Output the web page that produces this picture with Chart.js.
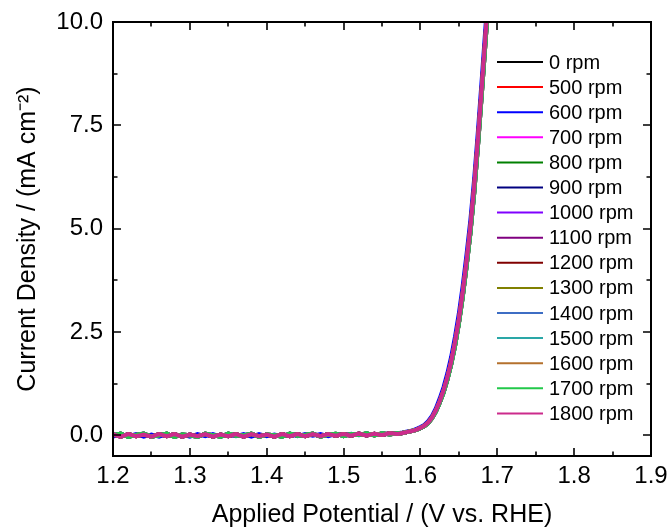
<!DOCTYPE html>
<html>
<head>
<meta charset="utf-8">
<script src="https://cdn.jsdelivr.net/npm/chart.js@4.4.0/dist/chart.umd.min.js"></script>
<style>
    html, body { margin: 0; padding: 0; background: #fff; }
    #wrap { width: 668px; height: 530px; }
</style>
</head>
<body>
<div id="wrap"><canvas id="rdeChart" width="668" height="530"></canvas></div>
<script>
// --- DATA ---

const speeds = ['0 rpm', '500 rpm', '600 rpm', '700 rpm', '800 rpm', '900 rpm', '1000 rpm', '1100 rpm',
    '1200 rpm', '1300 rpm', '1400 rpm', '1500 rpm', '1600 rpm', '1700 rpm', '1800 rpm']

const speedColors = ['#000000', '#ff0000', '#0000ff', '#ff00ff', '#008000', '#000080', '#8000ff', '#800080',
    '#800000', '#808000', '#3d6dc4', '#2aa7a7', '#b4712d', '#22c84a', '#cc2b8c']

// potential (V vs. RHE), shared by every sweep
const potential = [
    1.20, 1.21, 1.22, 1.23, 1.24, 1.25, 1.26, 1.27, 1.28, 1.29,
    1.30, 1.31, 1.32, 1.33, 1.34, 1.35, 1.36, 1.37, 1.38, 1.39,
    1.40, 1.41, 1.42, 1.43, 1.44, 1.45, 1.46, 1.47, 1.48, 1.49,
    1.50, 1.51, 1.52, 1.53, 1.54, 1.55, 1.56, 1.57,
    1.575, 1.580, 1.585, 1.590, 1.595, 1.600, 1.605, 1.610, 1.615, 1.620,
    1.625, 1.630, 1.635, 1.640, 1.645, 1.650, 1.655, 1.660, 1.665, 1.670,
    1.675, 1.680, 1.685, 1.690
]

// current density (mA cm-2), three sweep shapes
const currentA = [
    0.02, -0.03, 0.03, -0.02, 0.02, -0.03, 0.03, -0.02, 0.03, -0.03,
    0.02, -0.02, 0.03, -0.03, 0.02, -0.02, 0.03, -0.03, 0.03, -0.02,
    0.02, -0.03, 0.03, -0.02, 0.03, -0.02, 0.03, -0.02, 0.03, -0.01,
    0.03, -0.01, 0.04, 0.00, 0.04, 0.01, 0.05, 0.03,
    0.05, 0.07, 0.09, 0.11, 0.14, 0.18, 0.23, 0.31, 0.43, 0.60,
    0.82, 1.08, 1.40, 1.78, 2.25, 2.80, 3.45, 4.20, 5.02, 6.02,
    7.20, 8.45, 9.75, 11.05
]

const currentB = [
    -0.03, 0.03, -0.02, 0.03, -0.03, 0.02, -0.03, 0.03, -0.02, 0.02,
    -0.03, 0.03, -0.02, 0.03, -0.03, 0.02, -0.02, 0.03, -0.03, 0.03,
    -0.02, 0.02, -0.02, 0.03, -0.02, 0.03, -0.01, 0.03, -0.02, 0.03,
    0.00, 0.04, 0.00, 0.03, 0.02, 0.04, 0.03, 0.05,
    0.06, 0.08, 0.10, 0.12, 0.16, 0.20, 0.25, 0.34, 0.47, 0.65,
    0.89, 1.16, 1.50, 1.90, 2.39, 2.95, 3.62, 4.38, 5.21, 6.22,
    7.41, 8.67, 9.98, 11.28
]

const currentC = [
    0.00, 0.04, -0.04, 0.01, 0.04, -0.03, 0.00, 0.04, -0.04, 0.02,
    0.00, -0.04, 0.04, 0.00, -0.03, 0.04, -0.01, 0.00, 0.04, -0.04,
    0.02, 0.00, -0.03, 0.04, -0.01, 0.01, 0.04, -0.03, 0.02, 0.04,
    -0.02, 0.03, 0.01, 0.05, 0.00, 0.05, 0.02, 0.05,
    0.05, 0.07, 0.09, 0.11, 0.13, 0.17, 0.22, 0.29, 0.41, 0.57,
    0.78, 1.03, 1.34, 1.71, 2.16, 2.70, 3.34, 4.08, 4.89, 5.87,
    7.04, 8.29, 9.59, 10.89
]

// which sweep each rotation speed follows
const speedCurrents = [currentA, currentA, currentB, currentC, currentC, currentA, currentA, currentC,
    currentA, currentC, currentA, currentC, currentA, currentC, currentA]

const xTickValues = [1.2, 1.3, 1.4, 1.5, 1.6, 1.7, 1.8, 1.9]
const xMinorValues = [1.25, 1.35, 1.45, 1.55, 1.65, 1.75, 1.85]
const yTickValues = [0, 2.5, 5, 7.5, 10]
const yMinorValues = [1.25, 3.75, 6.25, 8.75]

// --- PLUGINS ---

// box frame with inward ticks on all four sides
const frameTicks = {
    id: 'frameTicks',
    afterDraw(chart){
        const ctx = chart.ctx
        const area = chart.chartArea
        const xs = chart.scales.x
        const ys = chart.scales.y

        ctx.save()
        ctx.strokeStyle = '#000'
        ctx.lineWidth = 2
        ctx.strokeRect(area.left, area.top, area.right - area.left, area.bottom - area.top)

        ctx.lineWidth = 1.6
        ctx.beginPath()
        const tickX = (vals, len) => vals.forEach(v => {
            const px = Math.round(xs.getPixelForValue(v))
            ctx.moveTo(px, area.bottom); ctx.lineTo(px, area.bottom - len)
            ctx.moveTo(px, area.top); ctx.lineTo(px, area.top + len)
        })
        const tickY = (vals, len) => vals.forEach(v => {
            const py = Math.round(ys.getPixelForValue(v))
            ctx.moveTo(area.left, py); ctx.lineTo(area.left + len, py)
            ctx.moveTo(area.right, py); ctx.lineTo(area.right - len, py)
        })
        tickX(xTickValues, 8)
        tickX(xMinorValues, 4.5)
        tickY(yTickValues, 8)
        tickY(yMinorValues, 4.5)
        ctx.stroke()
        ctx.restore()
    }
}

// legend inside the plot, top right
const innerLegend = {
    id: 'innerLegend',
    afterDraw(chart){
        const ctx = chart.ctx
        const area = chart.chartArea
        const x0 = area.right - 154
        const y0 = area.top + 40

        ctx.save()
        ctx.font = '20px "Liberation Sans", Arial, sans-serif'
        ctx.textBaseline = 'middle'
        ctx.textAlign = 'left'
        speeds.forEach((name, i) => {
            const y = y0 + i * 25.1
            ctx.strokeStyle = speedColors[i]
            ctx.lineWidth = 2
            ctx.beginPath()
            ctx.moveTo(x0, y)
            ctx.lineTo(x0 + 46, y)
            ctx.stroke()
            ctx.fillStyle = '#000'
            ctx.fillText(name, x0 + 52, y + 1)
        })
        ctx.restore()
    }
}

// --- CHART ---

function initChart(){
    const ctx = document.getElementById('rdeChart').getContext('2d')

    const datasets = speeds.map((name, i) => ({
        label: name,
        data: potential.map((v, k) => ({ x: v, y: speedCurrents[i][k] })),
        borderColor: speedColors[i],
        backgroundColor: speedColors[i],
        borderWidth: 4,
        pointRadius: 0,
        tension: 0,
        fill: false,
        order: speeds.length - 1 - i
    }))

    const tickFont = { family: '"Liberation Sans", Arial, sans-serif', size: 24 }
    const titleFont = { family: '"Liberation Sans", Arial, sans-serif', size: 25 }

    new Chart(ctx, {
        type: 'line',
        data: { datasets },
        plugins: [frameTicks, innerLegend],
        options: {
            responsive: false,
            animation: false,
            devicePixelRatio: 1,
            layout: { padding: { top: 22, right: 17, left: 0, bottom: 0 } },
            plugins: {
                legend: { display: false },
                tooltip: { enabled: false }
            },
            scales: {
                x: {
                    type: 'linear',
                    min: 1.2,
                    max: 1.9,
                    afterBuildTicks: s => { s.ticks = xTickValues.map(v => ({ value: v })) },
                    afterFit: s => {
                        s.height = 74
                        s.paddingLeft = 0
                        s.paddingRight = 0
                    },
                    grid: { display: false, drawTicks: false },
                    border: { display: false },
                    ticks: {
                        color: '#000',
                        font: tickFont,
                        padding: 6,
                        maxRotation: 0,
                        autoSkip: false,
                        callback: v => v.toFixed(1)
                    },
                    title: {
                        display: true,
                        text: 'Applied Potential / (V vs. RHE)',
                        color: '#000',
                        font: titleFont,
                        padding: { top: 0, bottom: 0 }
                    }
                },
                y: {
                    min: -0.5,
                    max: 10,
                    afterBuildTicks: s => { s.ticks = yTickValues.map(v => ({ value: v })) },
                    afterFit: s => {
                        s.width = 113
                        s.paddingTop = 0
                        s.paddingBottom = 0
                    },
                    grid: { display: false, drawTicks: false },
                    border: { display: false },
                    ticks: {
                        color: '#000',
                        font: tickFont,
                        padding: 10,
                        autoSkip: false,
                        callback: v => v.toFixed(1)
                    },
                    title: {
                        display: true,
                        text: 'Current Density / (mA cm⁻²)',
                        color: '#000',
                        font: titleFont,
                        padding: { top: 13, bottom: 0 }
                    }
                }
            }
        }
    })
}

initChart()
</script>
</body>
</html>
